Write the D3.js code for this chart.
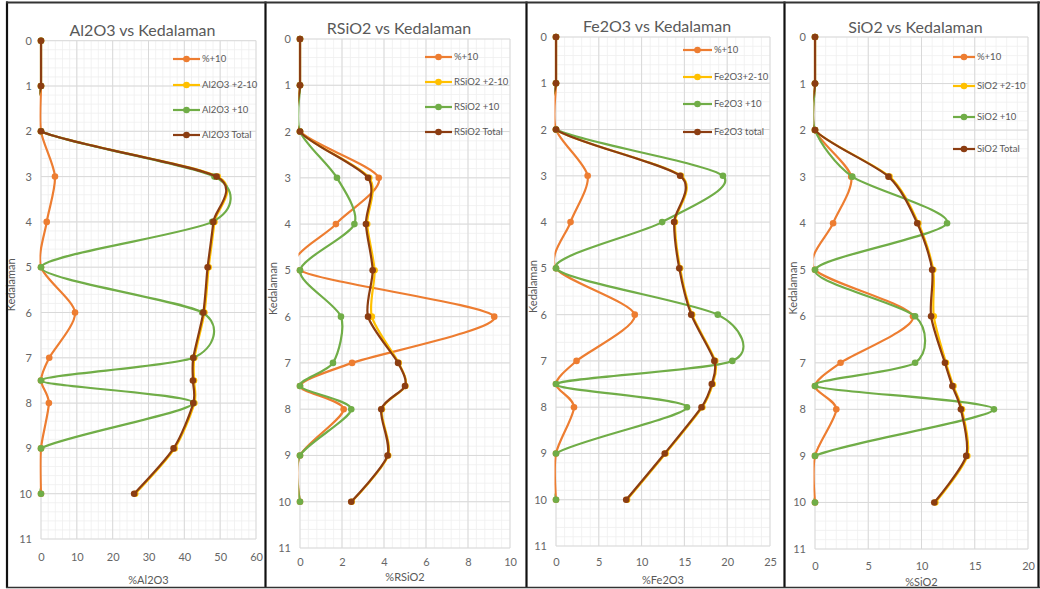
<!DOCTYPE html>
<html>
<head>
<meta charset="utf-8">
<script src="https://cdn.jsdelivr.net/npm/d3@7"></script>
<style>
  html, body { margin: 0; padding: 0; background: #fff; }
  svg { display: block; }
  text { font-family: Lato, "Open Sans", sans-serif; fill: #595959; }
</style>
</head>
<body>
<svg id="chart" width="1040" height="589"></svg>
<script>
// ---------- DATA ----------
const depths = [0, 1, 2, 3, 4, 5, 6, 7, 7.5, 8, 9, 10];
const yTicks = [0, 1, 2, 3, 4, 5, 6, 7, 8, 9, 10, 11];

const titles = ["Al2O3 vs Kedalaman", "RSiO2 vs Kedalaman", "Fe2O3 vs Kedalaman", "SiO2 vs Kedalaman"];
const xTitles = ["%Al2O3", "%RSiO2", "%Fe2O3", "%SiO2"];
const xMaxes = [60, 10, 25, 20];
const xTicks1 = [0, 10, 20, 30, 40, 50, 60];
const xTicks2 = [0, 2, 4, 6, 8, 10];
const xTicks3 = [0, 5, 10, 15, 20, 25];
const xTicks4 = [0, 5, 10, 15, 20];

const legend1 = ["%+10", "Al2O3 +2-10", "Al2O3 +10", "Al2O3 Total"];
const legend2 = ["%+10", "RSiO2 +2-10", "RSiO2 +10", "RSiO2 Total"];
const legend3 = ["%+10", "Fe2O3+2-10", "Fe2O3 +10", "Fe2O3 total"];
const legend4 = ["%+10", "SiO2 +2-10", "SiO2 +10", "SiO2 Total"];

// Al2O3
const al_pct10 = [0, 0, 0, 3.9, 1.6, 0, 9.5, 2.3, 0, 2.2, 0, 0];
const al_210   = [0, 0, 0, 49.3, 48.4, 46.8, 45.6, 42.8, 42.7, 42.8, 37.3, 26.3];
const al_10    = [0, 0, 0, 48.4, 47.8, 0, 45.0, 42.5, 0, 42.5, 0, 0];
const al_total = [0, 0, 0, 49.0, 48.1, 46.5, 45.3, 42.5, 42.4, 42.5, 37.0, 26.0];
// RSiO2
const rs_pct10 = [0, 0, 0, 3.75, 1.71, 0, 9.25, 2.48, 0, 2.08, 0, 0];
const rs_210   = [0, 0, 0, 3.3, 3.2, 3.55, 3.42, 4.7, 5.02, 3.9, 4.2, 2.46];
const rs_10    = [0, 0, 0, 1.76, 2.59, 0, 1.95, 1.57, 0, 2.44, 0, 0];
const rs_total = [0, 0, 0, 3.24, 3.14, 3.46, 3.24, 4.67, 5.0, 3.87, 4.17, 2.44];
// Fe2O3
const fe_pct10 = [0, 0, 0, 3.7, 1.7, 0, 9.2, 2.4, 0, 2.1, 0, 0];
const fe_210   = [0, 0, 0, 14.6, 13.9, 14.5, 15.9, 18.6, 18.3, 17.1, 12.8, 8.3];
const fe_10    = [0, 0, 0, 19.5, 12.4, 0, 18.9, 20.6, 0, 15.3, 0, 0];
const fe_total = [0, 0, 0, 14.5, 13.8, 14.4, 15.8, 18.5, 18.2, 17.0, 12.7, 8.2];
// SiO2
const si_pct10 = [0, 0, 0, 3.4, 1.7, 0, 9.2, 2.4, 0, 2.0, 0, 0];
const si_210   = [0, 0, 0, 7.0, 9.7, 11.1, 11.15, 12.3, 13.0, 13.8, 14.3, 11.3];
const si_10    = [0, 0, 0, 3.5, 12.4, 0, 9.4, 9.4, 0, 16.8, 0, 0];
const si_total = [0, 0, 0, 6.9, 9.6, 11.0, 10.9, 12.2, 12.9, 13.7, 14.2, 11.2];

// ---------- LAYOUT ----------
const colors = ["#ED7D31", "#FFC000", "#70AD47", "#8B3D12"];
const panels = [
  { title: titles[0], xTitle: xTitles[0], xMax: xMaxes[0], xTicks: xTicks1, legend: legend1,
    series: [al_pct10, al_210, al_10, al_total],
    plot: { l: 41, r: 256, t: 40.7, b: 539 }, titleY: 36, tickY: 562, axisTitleY: 584, ytitleX: 11,
    leg: { x0: 173, x1: 200, ys: [59, 85, 110, 135] } },
  { title: titles[1], xTitle: xTitles[1], xMax: xMaxes[1], xTicks: xTicks2, legend: legend2,
    series: [rs_pct10, rs_210, rs_10, rs_total],
    plot: { l: 300, r: 510, t: 39, b: 548 }, titleY: 34, tickY: 567, axisTitleY: 581, ytitleX: 273,
    leg: { x0: 425, x1: 452, ys: [57, 82, 107, 132] } },
  { title: titles[2], xTitle: xTitles[2], xMax: xMaxes[2], xTicks: xTicks3, legend: legend3,
    series: [fe_pct10, fe_210, fe_10, fe_total],
    plot: { l: 556, r: 770, t: 37, b: 546 }, titleY: 32, tickY: 567, axisTitleY: 584, ytitleX: 533,
    leg: { x0: 683, x1: 712, ys: [50, 77, 104, 132] } },
  { title: titles[3], xTitle: xTitles[3], xMax: xMaxes[3], xTicks: xTicks4, legend: legend4,
    series: [si_pct10, si_210, si_10, si_total],
    plot: { l: 815, r: 1028, t: 37, b: 549 }, titleY: 33, tickY: 571, axisTitleY: 586, ytitleX: 793,
    leg: { x0: 953, x1: 975, ys: [57, 86, 117, 149] } }
];

const svg = d3.select("#chart");
const defs = svg.append("defs");

panels.forEach((p, pi) => {
  const g = svg.append("g");
  const x = d3.scaleLinear().domain([0, p.xMax]).range([p.plot.l, p.plot.r]);
  const y = d3.scaleLinear().domain([0, 11]).range([p.plot.t, p.plot.b]);

  // minor grid
  const xStep = p.xTicks[1] - p.xTicks[0];
  const minorX = d3.range(0, p.xMax + 1e-9, xStep / 5);
  const minorY = d3.range(0, 11 + 1e-9, 0.2);
  g.append("g").selectAll("line").data(minorX).join("line")
    .attr("x1", d => x(d)).attr("x2", d => x(d)).attr("y1", y(0)).attr("y2", y(11))
    .attr("stroke", "#efefef").attr("stroke-width", 0.8);
  g.append("g").selectAll("line").data(minorY).join("line")
    .attr("y1", d => y(d)).attr("y2", d => y(d)).attr("x1", x(0)).attr("x2", x(p.xMax))
    .attr("stroke", "#efefef").attr("stroke-width", 0.8);
  // major grid
  g.append("g").selectAll("line").data(p.xTicks).join("line")
    .attr("x1", d => x(d)).attr("x2", d => x(d)).attr("y1", y(0)).attr("y2", y(11))
    .attr("stroke", "#d9d9d9").attr("stroke-width", 1);
  g.append("g").selectAll("line").data(yTicks).join("line")
    .attr("y1", d => y(d)).attr("y2", d => y(d)).attr("x1", x(0)).attr("x2", x(p.xMax))
    .attr("stroke", "#d9d9d9").attr("stroke-width", 1);

  // axes (labels only)
  const yAxis = d3.axisLeft(y).tickValues(yTicks).tickSize(0).tickPadding(9);
  const ya = g.append("g").attr("transform", `translate(${x(0)},0)`).call(yAxis);
  ya.select(".domain").remove();
  ya.selectAll("text").style("font-size", "11px").style("fill", "#666")
    .style("font-family", "Lato, 'Open Sans', sans-serif");

  const xAxis = d3.axisBottom(x).tickValues(p.xTicks).tickSize(0).tickPadding(0);
  const xa = g.append("g").attr("transform", `translate(0,${p.tickY - 9})`).call(xAxis);
  xa.select(".domain").remove();
  xa.selectAll("text").style("font-size", "11px").style("fill", "#666")
    .style("font-family", "Lato, 'Open Sans', sans-serif");

  // titles
  g.append("text").attr("x", (p.plot.l + p.plot.r) / 2 - 6).attr("y", p.titleY)
    .attr("text-anchor", "middle").style("font-size", "16px").text(p.title);
  g.append("text").attr("x", (p.plot.l + p.plot.r) / 2).attr("y", p.axisTitleY)
    .attr("text-anchor", "middle").style("font-size", "11px").text(p.xTitle);
  g.append("text").attr("transform", `translate(${p.ytitleX},${(p.plot.t + p.plot.b) / 2 - 5}) rotate(-90)`)
    .attr("text-anchor", "middle").attr("dy", "0.35em").style("font-size", "11px").text("Kedalaman");

  // clip
  const cid = "clip" + pi;
  defs.append("clipPath").attr("id", cid).append("rect")
    .attr("x", p.plot.l - 1.5).attr("y", p.plot.t - 3)
    .attr("width", p.plot.r - p.plot.l + 3).attr("height", p.plot.b - p.plot.t + 6);

  const line = d3.line()
    .x(d => x(d[1])).y(d => y(d[0]))
    .curve(d3.curveCardinal.tension(0.2));

  p.series.forEach((vals, si) => {
    const pts = depths.map((d, i) => [d, vals[i]]);
    g.append("path").attr("d", line(pts)).attr("fill", "none")
      .attr("stroke", colors[si]).attr("stroke-width", 2.2)
      .attr("clip-path", `url(#${cid})`);
    g.append("g").selectAll("circle").data(pts).join("circle")
      .attr("cx", d => x(d[1])).attr("cy", d => y(d[0])).attr("r", 3.3)
      .attr("fill", colors[si]);
  });

  // legend
  const lg = g.append("g");
  p.legend.forEach((name, i) => {
    const ly = p.leg.ys[i];
    lg.append("line").attr("x1", p.leg.x0).attr("x2", p.leg.x1).attr("y1", ly).attr("y2", ly)
      .attr("stroke", colors[i]).attr("stroke-width", 2.2);
    lg.append("circle").attr("cx", (p.leg.x0 + p.leg.x1) / 2).attr("cy", ly).attr("r", 3.3).attr("fill", colors[i]);
    lg.append("text").attr("x", p.leg.x1 + 2).attr("y", ly).attr("dy", "0.35em")
      .style("font-size", "9.5px").text(name);
  });
});

// panel borders
const borderX = [7, 265.5, 526.5, 784.5, 1038.5];
svg.append("g").selectAll("line").data(borderX).join("line")
  .attr("x1", d => d).attr("x2", d => d).attr("y1", 1.5).attr("y2", 588)
  .attr("stroke", "#111").attr("stroke-width", 2.2);
svg.append("line").attr("x1", 6).attr("x2", 1040).attr("y1", 2.5).attr("y2", 2.5)
  .attr("stroke", "#333").attr("stroke-width", 2);
svg.append("line").attr("x1", 6).attr("x2", 1040).attr("y1", 587.5).attr("y2", 587.5)
  .attr("stroke", "#333").attr("stroke-width", 1.5);
</script>
</body>
</html>
